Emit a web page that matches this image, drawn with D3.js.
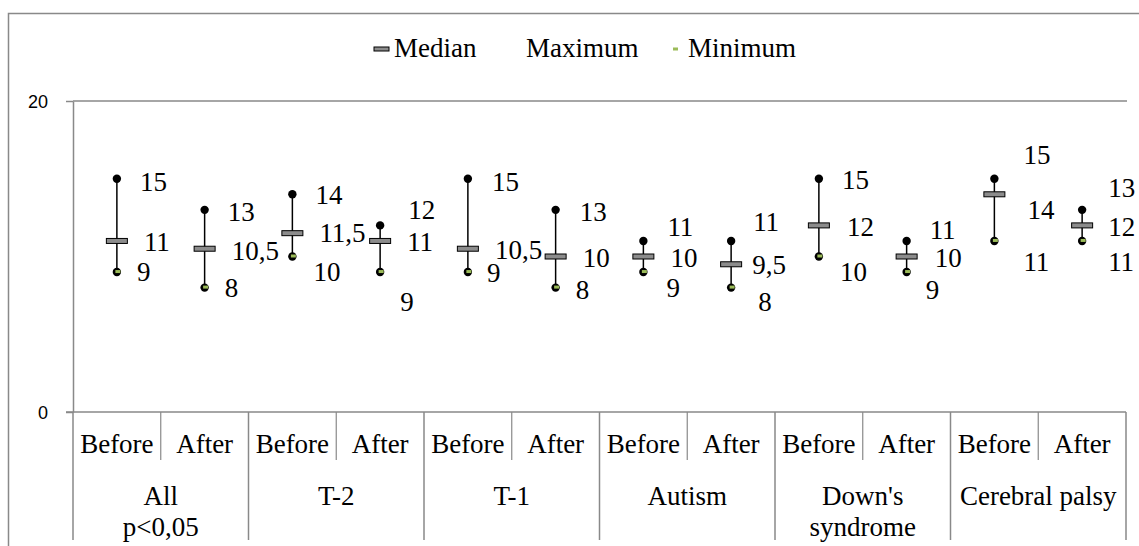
<!DOCTYPE html>
<html>
<head>
<meta charset="utf-8">
<script src="https://cdn.jsdelivr.net/npm/d3@7"></script>
<style>
  body { margin: 0; background: #fff; }
  svg { display: block; }
</style>
</head>
<body>
<div id="chart"></div>
<script>
// groups and sub categories
const groups = [['All', 'p<0,05'], ['T-2'], ['T-1'], ['Autism'], ["Down's", 'syndrome'], ['Cerebral palsy']];
const phases = ['Before', 'After'];

// series values, one per column (group x phase)
const maximum = [15, 13, 14, 12, 15, 13, 11, 11, 15, 11, 15, 13];
const median = [11, 10.5, 11.5, 11, 10.5, 10, 10, 9.5, 12, 10, 14, 12];
const minimum = [9, 8, 10, 9, 9, 8, 9, 8, 10, 9, 11, 11];

const yTicks = [0, 20];

// label nudges [dx, dy] so labels don't overlap (layout only)
const maxNudge = [[0, 3], [0, 2], [0, 1], [5, -15], [1, 3], [1, 2], [1, -14], [-1, -19], [0, 1], [0, -11], [6, -24], [3, -22]];
const medNudge = [[0, 1], [0, 2], [0, 0], [0, 1], [0, 1], [0, 2], [0, 2], [-6, 1], [1, 2], [1, 2], [6, 16], [-1, 2]];
const minNudge = [[0, 0], [0, 0], [1, 16], [0, 30], [-1, 1], [0, 2], [3, 16], [7, 14], [1, 16], [-1, 18], [9, 21], [6, 21]];

const width = 1139;
const height = 546;
const margin = { top: 101, right: 13, bottom: 134, left: 73 };
const gray = '#898989';
const green = '#9bbb59';
const serif = "'Liberation Serif', 'Times New Roman', serif";
const sans = "'Liberation Sans', Arial, sans-serif";

const fmt = (v) => String(v).replace('.', ',');

const columns = [];
groups.forEach((g, gi) => phases.forEach((p) => columns.push(gi + '-' + p)));

const svg = d3.select('#chart').append('svg')
  .attr('width', width)
  .attr('height', height);

const label = (sel) => sel
  .style('font-family', serif)
  .style('font-size', '27px')
  .attr('fill', '#000');

// outer chart border (left + top)
svg.append('path')
  .attr('d', `M8.5,${height} L8.5,13.5 L${width},13.5`)
  .attr('fill', 'none')
  .attr('stroke', gray)
  .attr('stroke-width', 1.5);

const x = d3.scaleBand()
  .domain(columns)
  .range([margin.left, width - margin.right])
  .padding(0);

const y = d3.scaleLinear()
  .domain([0, 20])
  .range([height - margin.bottom, margin.top]);

const x0 = margin.left;
const x1 = width - margin.right;

// gridline at top tick
svg.append('line')
  .attr('x1', x0).attr('x2', x1 + 1)
  .attr('y1', y(20)).attr('y2', y(20))
  .attr('stroke', gray).attr('stroke-width', 1.5);

// y axis
const yAxis = svg.append('g')
  .attr('transform', `translate(${x0},0)`)
  .call(d3.axisLeft(y).tickValues(yTicks).tickSize(7).tickSizeOuter(0).tickFormat(d3.format('d')));
yAxis.select('.domain').attr('stroke', gray).attr('stroke-width', 1.5);
yAxis.selectAll('.tick line').attr('stroke', gray).attr('stroke-width', 1.5);
yAxis.selectAll('.tick text')
  .attr('x', -25)
  .attr('dy', '0.35em')
  .attr('fill', '#000')
  .style('font-family', sans)
  .style('font-size', '18px');

// category axis line
svg.append('line')
  .attr('x1', x0 - 7).attr('x2', x1)
  .attr('y1', y(0)).attr('y2', y(0))
  .attr('stroke', gray).attr('stroke-width', 1.5);

// separators
columns.forEach((c, i) => {
  const isGroupEdge = i % 2 === 0;
  svg.append('line')
    .attr('x1', x(c)).attr('x2', x(c))
    .attr('y1', y(0)).attr('y2', isGroupEdge ? 540 : 460)
    .attr('stroke', gray).attr('stroke-width', isGroupEdge ? 1.5 : 1.2);
});
svg.append('line')
  .attr('x1', x1).attr('x2', x1)
  .attr('y1', y(0)).attr('y2', 540)
  .attr('stroke', gray).attr('stroke-width', 1.5);

// sub category labels
svg.selectAll('.phase')
  .data(columns)
  .enter()
  .append('text')
  .call(label)
  .attr('x', (d) => x(d) + x.bandwidth() / 2)
  .attr('y', 453)
  .attr('text-anchor', 'middle')
  .text((d) => d.split('-')[1]);

// group labels
groups.forEach((g, gi) => {
  const gx = x(gi + '-Before') + x.bandwidth();
  g.forEach((line, li) => {
    svg.append('text')
      .call(label)
      .attr('x', gx)
      .attr('y', 505 + li * 31)
      .attr('text-anchor', 'middle')
      .text(line);
  });
});

const cx = (i) => x(columns[i]) + x.bandwidth() / 2;

// high-low lines
svg.selectAll('.hl')
  .data(columns)
  .enter()
  .append('line')
  .attr('x1', (d, i) => cx(i)).attr('x2', (d, i) => cx(i))
  .attr('y1', (d, i) => y(maximum[i]))
  .attr('y2', (d, i) => y(minimum[i]))
  .attr('stroke', '#000').attr('stroke-width', 1.5);

// maximum markers
svg.selectAll('.mx')
  .data(maximum)
  .enter()
  .append('circle')
  .attr('cx', (d, i) => cx(i))
  .attr('cy', (d) => y(d))
  .attr('r', 4.2)
  .attr('fill', '#000');

// minimum markers
svg.selectAll('.mn')
  .data(minimum)
  .enter()
  .append('circle')
  .attr('cx', (d, i) => cx(i))
  .attr('cy', (d) => y(d))
  .attr('r', 4.2)
  .attr('fill', '#000');
svg.selectAll('.mnd')
  .data(minimum)
  .enter()
  .append('rect')
  .attr('x', (d, i) => cx(i) - 1.5)
  .attr('y', (d) => y(d) - 2)
  .attr('width', 5)
  .attr('height', 3)
  .attr('fill', green);

// median markers
svg.selectAll('.md')
  .data(median)
  .enter()
  .append('rect')
  .attr('x', (d, i) => cx(i) - 10.5)
  .attr('y', (d) => y(d) - 2.5)
  .attr('width', 21)
  .attr('height', 5)
  .attr('fill', '#8c8c8c')
  .attr('stroke', '#000')
  .attr('stroke-width', 1);

// data labels
function addLabels(values, baseDx, nudge) {
  svg.selectAll(null)
    .data(values)
    .enter()
    .append('text')
    .call(label)
    .attr('x', (d, i) => cx(i) + baseDx + nudge[i][0])
    .attr('y', (d, i) => y(d) + nudge[i][1])
    .attr('dy', '0.33em')
    .text((d) => fmt(d));
}
addLabels(maximum, 23, maxNudge);
addLabels(median, 27, medNudge);
addLabels(minimum, 20, minNudge);

// legend
const legend = svg.append('g');
legend.append('rect')
  .attr('x', 374).attr('y', 47)
  .attr('width', 15).attr('height', 4)
  .attr('fill', '#8c8c8c').attr('stroke', '#000').attr('stroke-width', 1);
legend.append('text').call(label).attr('x', 394).attr('y', 57).text('Median');
legend.append('text').call(label).attr('x', 526).attr('y', 57).text('Maximum');
legend.append('rect')
  .attr('x', 673).attr('y', 47.5)
  .attr('width', 5).attr('height', 3)
  .attr('fill', green);
legend.append('text').call(label).attr('x', 688).attr('y', 57).text('Minimum');
</script>
</body>
</html>
